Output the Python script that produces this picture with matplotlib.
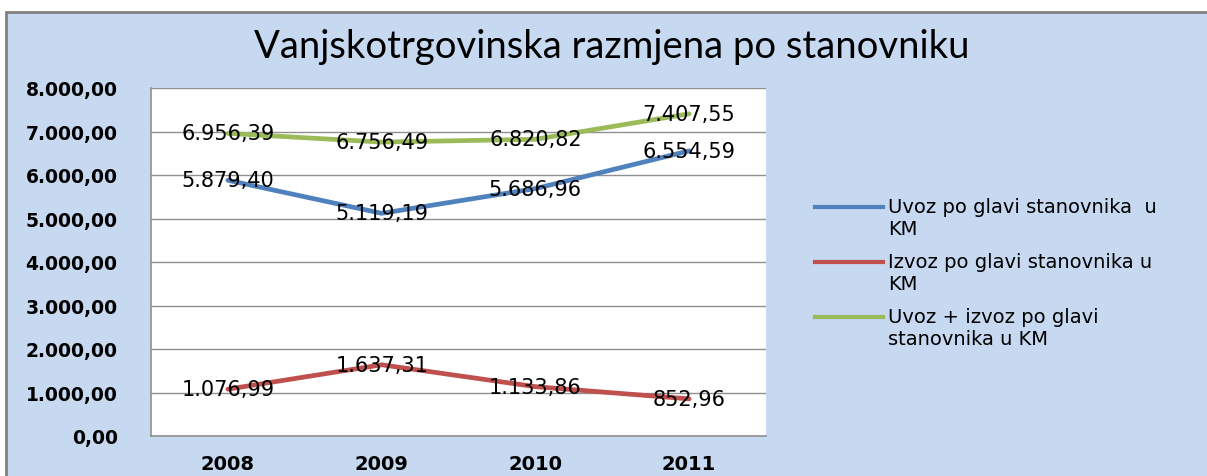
import numpy as np
import matplotlib.pyplot as plt
from matplotlib.patches import Rectangle
from matplotlib.lines import Line2D

# podaci
godine = ['2008', '2009', '2010', '2011']
uvoz = [5879.40, 5119.19, 5686.96, 6554.59]
izvoz = [1076.99, 1637.31, 1133.86, 852.96]
ukupno = [6956.39, 6756.49, 6820.82, 7407.55]

nazivi = ['Uvoz po glavi stanovnika  u\nKM',
          'Izvoz po glavi stanovnika u\nKM',
          'Uvoz + izvoz po glavi\nstanovnika u KM']
boje = ['#4F81BD', '#C0504D', '#9BBB59']


def km(v):
    # 1234.5 -> 1.234,50
    s = f"{v:,.2f}"
    return s.replace(',', 'X').replace('.', ',').replace('X', '.')


fig = plt.figure(figsize=(12.07, 4.77), dpi=100)
fig.patch.set_facecolor('white')

# pozadina grafikona
fig.add_artist(Rectangle((6/1207, -0.05), 1.1, 1 - 13/477 + 0.05,
                         transform=fig.transFigure, facecolor='#C6D9F1',
                         edgecolor='#808080', linewidth=2, zorder=0))

ax = fig.add_axes([151/1207, 1 - 437/477, 615/1207, 348/477])
ax.set_facecolor('white')

x = np.arange(len(godine))
for serija, boja in zip([uvoz, izvoz, ukupno], boje):
    ax.plot(x, serija, color=boja, lw=3.4, solid_capstyle='round', zorder=3)
    for xi, yi in zip(x, serija):
        ax.text(xi, yi, km(yi), ha='center', va='center', fontsize=15,
                color='black', zorder=4)

ax.set_xlim(-0.5, 3.5)
ax.set_ylim(0, 8000)
ax.set_yticks(np.arange(0, 8001, 1000))
ax.set_yticklabels([km(v) for v in np.arange(0, 8001, 1000)],
                   fontsize=13.5, fontweight='bold')
ax.set_xticks(x)
ax.set_xticklabels(godine, fontsize=14, fontweight='bold')
ax.tick_params(axis='y', length=0, pad=24)
ax.tick_params(axis='x', length=0, pad=13)
ax.grid(axis='y', color='#909090', lw=1)
ax.set_axisbelow(True)
for s in ['top', 'right']:
    ax.spines[s].set_visible(False)
for s in ['left', 'bottom']:
    ax.spines[s].set_color('#909090')
    ax.spines[s].set_linewidth(1.2)

fig.text(612/1207, 1 - 47/477, 'Vanjskotrgovinska razmjena po stanovniku',
         ha='center', va='center', fontsize=27.5, family='Lato')

# legenda
for i, (naziv, boja) in enumerate(zip(nazivi, boje)):
    yl = 1 - (208 + 55*i)/477
    fig.add_artist(Line2D([815/1207, 883/1207], [yl, yl], color=boja, lw=3,
                          transform=fig.transFigure))
    fig.text(888/1207, yl + 10/477, naziv, ha='left', va='top', fontsize=14,
             linespacing=1.18)

fig.savefig('out.png', dpi=100)
